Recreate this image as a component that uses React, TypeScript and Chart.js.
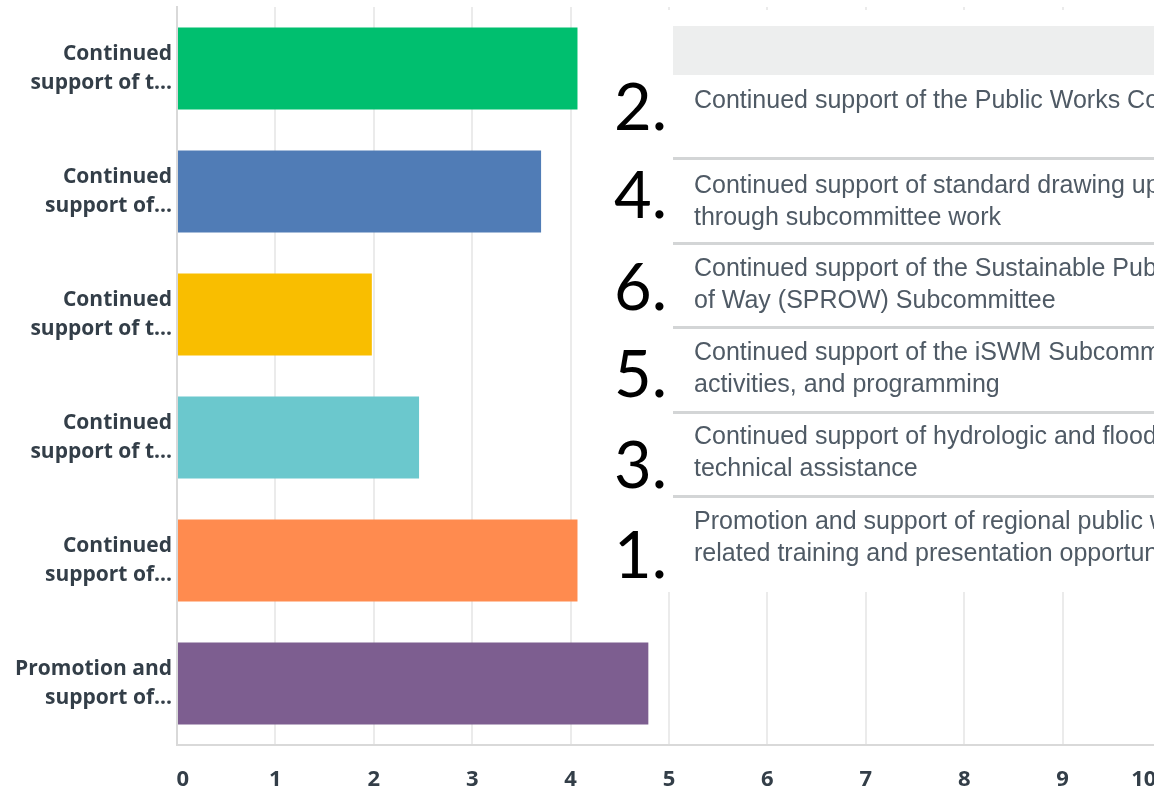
import React, { useEffect, useRef } from "react";
import { Chart, registerables } from "chart.js";

Chart.register(...registerables);

const categories: string[][] = [
  ["Continued", "support of t..."],
  ["Continued", "support of..."],
  ["Continued", "support of t..."],
  ["Continued", "support of t..."],
  ["Continued", "support of..."],
  ["Promotion and", "support of..."],
];
const values: number[] = [4.07, 3.7, 1.98, 2.46, 4.07, 4.79];
const barColors: string[] = ["#00bf6f", "#507cb6", "#f9be00", "#6bc8cd", "#ff8b4f", "#7d5e90"];
const xTickLabels: string[] = ["0", "1", "2", "3", "4", "5", "6", "7", "8", "9", "10"];

const rankNumbers: string[] = ["2.", "4.", "6.", "5.", "3.", "1."];
const rankTexts: string[][] = [
  ["Continued support of the Public Works Council"],
  ["Continued support of standard drawing updates", "through subcommittee work"],
  ["Continued support of the Sustainable Public Right", "of Way (SPROW) Subcommittee"],
  ["Continued support of the iSWM Subcommittee,", "activities, and programming"],
  ["Continued support of hydrologic and flood", "technical assistance"],
  ["Promotion and support of regional public works", "related training and presentation opportunities"],
];

const overlayPlugin = {
  id: "rankOverlay",
  afterDraw(chart: any) {
    const ctx = chart.ctx as CanvasRenderingContext2D;
    ctx.save();
    // white panel
    ctx.fillStyle = "#ffffff";
    ctx.fillRect(590, 10, 620, 582);
    // header bar
    ctx.fillStyle = "#edeeee";
    ctx.fillRect(673, 26, 620, 49);
    // separators
    const seps = [158, 243, 327, 412, 496];
    ctx.fillStyle = "#d3d5d6";
    seps.forEach((y) => ctx.fillRect(673, y - 1, 620, 3));
    // row texts
    const firstBaselines = [108, 193, 276, 360, 444, 529];
    ctx.font = "25px 'Liberation Sans', Arial, sans-serif";
    ctx.fillStyle = "#4f5a65";
    ctx.textBaseline = "alphabetic";
    ctx.textAlign = "left";
    rankTexts.forEach((lines, i) => {
      lines.forEach((line, j) => {
        ctx.fillText(line, 694, firstBaselines[i] + j * 32);
      });
    });
    // big rank numbers
    const numBottoms = [130, 218, 310, 397, 488, 578];
    ctx.font = "400 65px Lato, 'Open Sans', sans-serif";
    ctx.fillStyle = "#000000";
    rankNumbers.forEach((n, i) => {
      ctx.fillText(n, 614, numBottoms[i]);
    });
    ctx.restore();
  },
};

export default function App() {
  const canvasRef = useRef<HTMLCanvasElement | null>(null);

  useEffect(() => {
    const canvas = canvasRef.current;
    if (!canvas) return;
    const chart = new Chart(canvas, {
      type: "bar",
      data: {
        labels: categories,
        datasets: [
          {
            data: values,
            backgroundColor: barColors,
            borderWidth: 0,
            categoryPercentage: 1,
            barPercentage: 0.667,
          },
        ],
      },
      options: {
        indexAxis: "y",
        animation: false,
        responsive: false,
        devicePixelRatio: 1,
        layout: { padding: { top: 7, left: 0, right: 19, bottom: 0 } },
        plugins: {
          legend: { display: false },
          tooltip: { enabled: false },
        },
        scales: {
          x: {
            min: 0,
            max: 10,
            afterFit: (s: any) => {
              s.height = 45;
              s.paddingLeft = 0;
              s.paddingRight = 0;
            },
            afterBuildTicks: (s: any) => {
              s.ticks = xTickLabels.map((_, i) => ({ value: i }));
            },
            ticks: {
              stepSize: 1,
              padding: 22,
              color: "#333e48",
              font: { family: "'Open Sans', sans-serif", size: 22, weight: "bold" },
              callback: (_v: any, i: number) => {
                const t = xTickLabels[i];
                if (i === 0) return "  " + t;
                if (i === xTickLabels.length - 1) return t + "      ";
                return t;
              },
            },
            grid: { color: "#ebebeb", lineWidth: 2, drawTicks: false },
            border: { display: true, color: "#d9d9d9", width: 2 },
          },
          y: {
            afterFit: (s: any) => {
              s.width = 177;
              s.paddingTop = 0;
              s.paddingBottom = 0;
            },
            ticks: {
              padding: 5,
              color: "#333e48",
              font: { family: "'Open Sans', sans-serif", size: 21, weight: "bold", lineHeight: 1.38 },
            },
            grid: { display: false, drawTicks: false },
            border: { display: true, color: "#d9d9d9", width: 2 },
          },
        },
      },
      plugins: [overlayPlugin],
    });
    return () => chart.destroy();
  }, []);

  return (
    <div
      style={{
        position: "fixed",
        left: 0,
        top: 0,
        width: 1154,
        height: 790,
        overflow: "hidden",
        background: "#ffffff",
      }}
    >
      <canvas ref={canvasRef} width={1180} height={790} style={{ display: "block" }} />
    </div>
  );
}
